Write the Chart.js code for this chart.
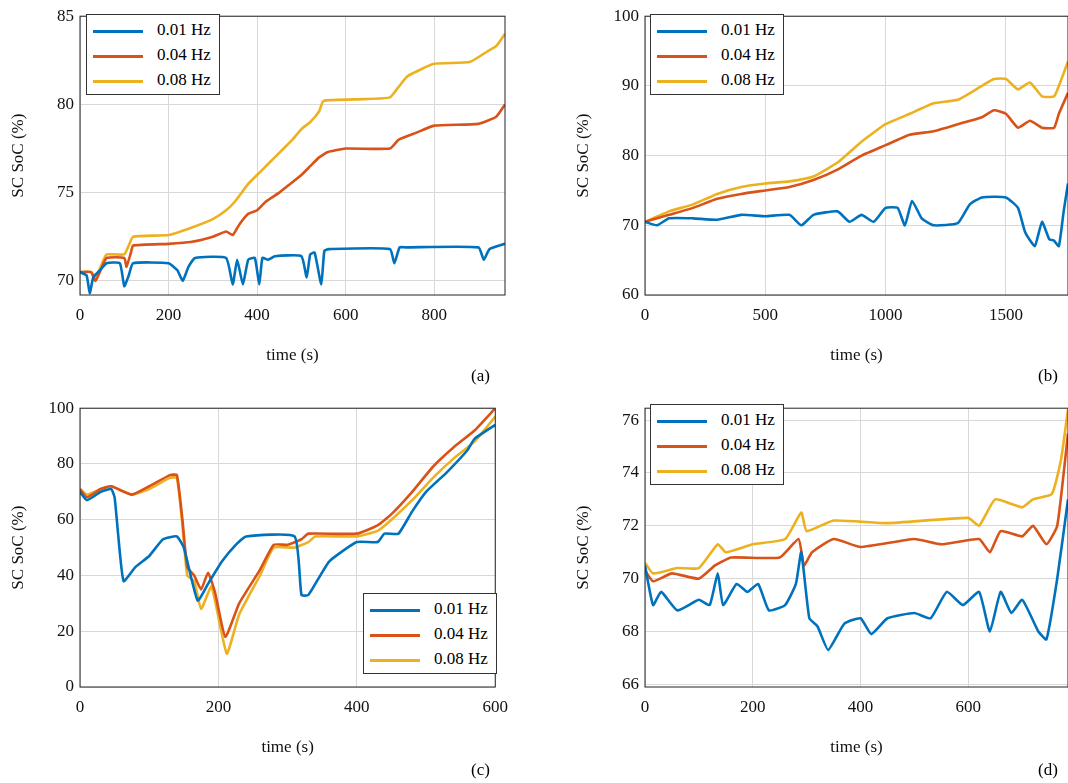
<!DOCTYPE html>
<html>
<head>
<script src="https://cdn.jsdelivr.net/npm/chart.js@4"></script>
<style>
body { margin:0; background:#fff; width:1068px; height:783px; position:relative; overflow:hidden; font-family:"Liberation Serif", serif; }
.wrap { position:absolute; }
.lbl { position:absolute; font-size:17px; }
.legend { position:absolute; background:#fff; border:1px solid #333; font-size:17px; padding:2px 8px 2px 6px; line-height:25px; }
.legend span { display:inline-block; width:50px; height:3px; vertical-align:middle; margin-right:14px; }
</style>
</head>
<body>
<div class="wrap" style="left:0;top:0;width:515px;height:370px"><canvas id="ca"></canvas></div>
<div class="wrap" style="left:565px;top:0;width:503px;height:370px"><canvas id="cb"></canvas></div>
<div class="wrap" style="left:0;top:392px;width:518px;height:370px"><canvas id="cc"></canvas></div>
<div class="wrap" style="left:565px;top:392px;width:503px;height:370px"><canvas id="cd"></canvas></div>
<div class="lbl" style="left:471px;top:366px">(a)</div>
<div class="lbl" style="left:1038px;top:366px">(b)</div>
<div class="lbl" style="left:471px;top:760px">(c)</div>
<div class="lbl" style="left:1038px;top:760px">(d)</div>
<div class="legend" style="left:86px;top:14px"><div><span style="background:#0072BD"></span>0.01 Hz</div><div><span style="background:#D95319"></span>0.04 Hz</div><div><span style="background:#EDB120"></span>0.08 Hz</div></div>
<div class="legend" style="left:650px;top:14px"><div><span style="background:#0072BD"></span>0.01 Hz</div><div><span style="background:#D95319"></span>0.04 Hz</div><div><span style="background:#EDB120"></span>0.08 Hz</div></div>
<div class="legend" style="left:363px;top:593px"><div><span style="background:#0072BD"></span>0.01 Hz</div><div><span style="background:#D95319"></span>0.04 Hz</div><div><span style="background:#EDB120"></span>0.08 Hz</div></div>
<div class="legend" style="left:650px;top:404px"><div><span style="background:#0072BD"></span>0.01 Hz</div><div><span style="background:#D95319"></span>0.04 Hz</div><div><span style="background:#EDB120"></span>0.08 Hz</div></div>
<script>
const seriesLabels = ["0.01 Hz", "0.04 Hz", "0.08 Hz"];
const colors = ["#0072BD", "#D95319", "#EDB120"];

// panel (a)
const aX1 = [0,15,22,30,45,60,90,100,110,120,200,220,232,245,260,330,345,355,368,380,395,405,412,425,440,500,512,520,530,545,552,562,700,710,722,735,900,912,925,960];
const aY1 = [70.5,70.3,69.3,70.2,70.6,71,71,69.7,70.3,71,71,70.6,70,70.8,71.3,71.3,69.8,71.2,69.8,71.2,71.3,69.8,71.3,71.2,71.4,71.4,70.2,71.5,71.6,69.8,71.7,71.8,71.8,71,71.9,71.9,71.9,71.2,71.8,72.1];
const aX2 = [0,25,35,50,60,100,105,115,120,200,250,300,330,345,360,380,400,420,450,470,500,520,540,560,600,700,720,760,800,900,940,960];
const aY2 = [70.5,70.5,70,70.8,71.3,71.3,70.8,71.6,72,72.1,72.2,72.5,72.8,72.6,73.2,73.8,74,74.5,75,75.4,76,76.5,77,77.3,77.5,77.5,78,78.4,78.8,78.9,79.3,80];
const aX3 = [0,25,35,50,60,100,110,120,200,250,300,330,350,380,400,420,440,460,480,500,520,540,550,640,700,720,740,800,880,920,940,960];
const aY3 = [70.5,70.5,70.2,71,71.5,71.5,72,72.5,72.6,73,73.5,74,74.5,75.5,76,76.5,77,77.5,78,78.6,79,79.6,80.2,80.3,80.4,81,81.6,82.3,82.4,83,83.3,84];
const aXTicks = [0,200,400,600,800];
const aYTicks = [70,75,80,85];

// panel (b)
const bX1 = [0,50,100,200,300,400,500,600,650,700,800,850,900,950,1000,1050,1080,1110,1150,1200,1300,1350,1400,1500,1550,1580,1620,1650,1680,1700,1720,1740,1758];
const bY1 = [70.5,70,71,71,70.8,71.5,71.3,71.5,70,71.5,72,70.5,71.5,70.5,72.5,72.5,70,73.5,71,70,70.3,73,74,74,72.5,69,67,70.5,68,67.8,67,72,76];
const bX2 = [0,100,200,300,400,500,600,700,800,900,1000,1100,1200,1300,1400,1450,1500,1550,1600,1650,1700,1720,1758];
const bY2 = [70.5,71.5,72.5,73.8,74.5,75,75.5,76.5,78,80,81.5,83,83.5,84.5,85.5,86.5,86,84,85,84,84,86,89];
const bX3 = [0,100,200,300,400,500,600,700,800,900,1000,1100,1200,1300,1400,1450,1500,1550,1600,1650,1700,1720,1758];
const bY3 = [70.5,72,73,74.5,75.5,76,76.3,77,79,82,84.5,86,87.5,88,90,91,91,89.5,90.5,88.5,88.5,90,93.5];
const bXTicks = [0,500,1000,1500];
const bYTicks = [60,70,80,90,100];

// panel (c)
const cX1 = [0,10,30,45,50,55,63,80,100,120,140,150,170,185,205,225,240,310,320,330,360,400,430,440,460,480,500,530,560,570,600];
const cY1 = [70,67,70,71,68,55,38,43,47,53,54,50,31,37,45,51,54,54,33,33,45,52,52,55,55,63,70,77,85,89,94];
const cX2 = [0,10,30,45,75,100,130,140,148,155,165,175,185,195,210,230,260,280,300,320,330,400,430,450,480,510,540,570,600];
const cY2 = [71,68,71,72,69,72,76,76,60,43,40,35,41,34,18,30,42,51,51,53,55,55,58,62,70,79,86,92,100];
const cX3 = [0,10,30,45,75,100,130,140,148,155,165,175,190,212,230,260,280,310,330,340,400,430,450,480,510,540,570,600];
const cY3 = [71,69,71,72,69,71,75,75,58,40,38,28,36,12,26,40,50,50,52,54,54,56,60,67,75,82,88,97];
const cXTicks = [0,200,400,600];
const cYTicks = [0,20,40,60,80,100];

// panel (d)
const dX1 = [0,15,30,60,100,120,135,145,170,190,210,230,260,280,290,305,320,340,370,400,420,450,500,530,560,590,620,640,660,680,700,730,745,765,785];
const dY1 = [70.5,69,69.5,68.8,69.2,69,70.2,69,69.8,69.5,69.8,68.8,69,69.8,71,68.5,68.2,67.3,68.3,68.5,67.9,68.5,68.7,68.5,69.5,69,69.5,68,69.5,68.7,69.2,68,67.7,70,73];
const dX2 = [0,15,50,100,130,160,250,285,295,310,350,400,500,550,620,640,660,700,720,745,765,785];
const dY2 = [70.3,69.9,70.2,70,70.5,70.8,70.8,71.5,70.5,71,71.5,71.2,71.5,71.3,71.5,71,71.8,71.6,72,71.3,72,75.5];
const dX3 = [0,15,60,100,135,150,200,260,290,300,350,450,600,620,650,700,720,755,772,785];
const dY3 = [70.6,70.2,70.4,70.4,71.3,71,71.3,71.5,72.5,71.8,72.2,72.1,72.3,72,73,72.7,73,73.2,74.5,76.4];
const dXTicks = [0,200,400,600];
const dYTicks = [66,68,70,72,74,76];

const frame = {
  id: "frame",
  afterDraw(chart) {
    const a = chart.chartArea, ctx = chart.ctx;
    ctx.save(); ctx.strokeStyle = "#222"; ctx.lineWidth = 1;
    ctx.strokeRect(a.left, a.top, a.right - a.left, a.bottom - a.top);
    ctx.restore();
  }
};

function makeChart(id, xs, ys, xMax, yMin, yMax, xTicks, yTicks, padRight) {
  const datasets = xs.map((xArr, i) => ({
    label: seriesLabels[i],
    data: xArr.map((x, j) => ({ x: x, y: ys[i][j] })),
    borderColor: colors[i], borderWidth: 2.6, pointRadius: 0, tension: 0.15, fill: false
  }));
  const font = { family: "'Liberation Serif', serif", size: 17 };
  new Chart(document.getElementById(id), {
    type: "line",
    data: { datasets: datasets },
    options: {
      animation: false, responsive: true, maintainAspectRatio: false,
      layout: { padding: { top: 8, right: padRight, left: 0, bottom: 0 } },
      plugins: { legend: { display: false }, tooltip: { enabled: false } },
      scales: {
        x: {
          type: "linear", min: 0, max: xMax,
          afterBuildTicks: s => { s.ticks = xTicks.map(v => ({ value: v })); },
          afterFit: s => { s.height = 75; },
          grid: { color: "#d8d8d8", tickLength: 0 }, border: { display: false },
          ticks: { color: "#111", font: font, padding: 10, callback: v => String(v) },
          title: { display: true, text: "time (s)", color: "#111", font: font, padding: { top: 10 } }
        },
        y: {
          min: yMin, max: yMax,
          afterBuildTicks: s => { s.ticks = yTicks.map(v => ({ value: v })); },
          afterFit: s => { s.width = 80; },
          grid: { color: "#d8d8d8", tickLength: 0 }, border: { display: false },
          ticks: { color: "#111", font: font, padding: 6, callback: v => String(v) },
          title: { display: true, text: "SC SoC (%)", color: "#111", font: font, padding: { top: 8, bottom: 0 } }
        }
      }
    },
    plugins: [frame]
  });
}

makeChart("ca", [aX1, aX2, aX3], [aY1, aY2, aY3], 960, 69.2, 85, aXTicks, aYTicks, 10);
makeChart("cb", [bX1, bX2, bX3], [bY1, bY2, bY3], 1758, 60, 100, bXTicks, bYTicks, 0);
makeChart("cc", [cX1, cX2, cX3], [cY1, cY2, cY3], 600, 0, 100, cXTicks, cYTicks, 0);
makeChart("cd", [dX1, dX2, dX3], [dY1, dY2, dY3], 785, 65.9, 76.45, dXTicks, dYTicks, 0);
</script>
</body>
</html>
